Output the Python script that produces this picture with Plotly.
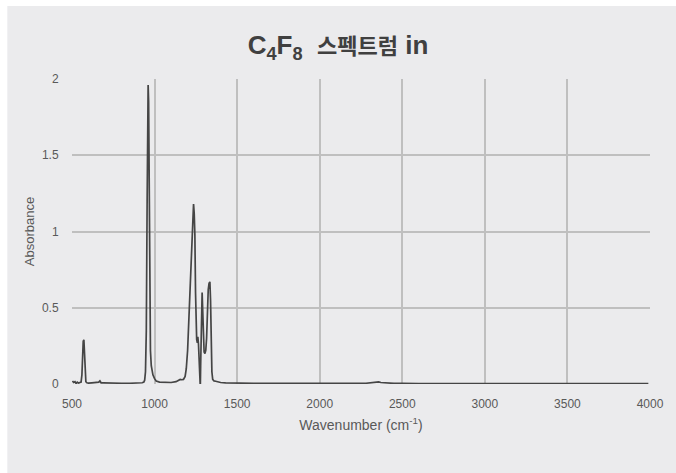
import plotly.graph_objects as go

wavenumber = [503, 510, 518, 525, 532, 540, 548, 555, 560, 564, 568, 572, 576, 580, 584, 590, 600, 620, 640, 655, 662, 669, 676, 690, 720, 760, 800, 850, 900, 925, 935, 940, 945, 950, 955, 958, 961, 964, 967, 970, 975, 980, 990, 1000, 1010, 1030, 1060, 1100, 1130, 1145, 1155, 1165, 1175, 1185, 1192, 1200, 1208, 1215, 1222, 1228, 1232, 1236, 1240, 1244, 1248, 1251, 1255, 1259, 1262, 1266, 1270, 1274, 1276, 1277, 1279, 1282, 1285, 1288, 1291, 1295, 1300, 1305, 1310, 1315, 1320, 1325, 1330, 1335, 1339, 1343, 1347, 1352, 1360, 1370, 1385, 1400, 1430, 1470, 1520, 1600, 1700, 1800, 1900, 2000, 2100, 2200, 2280, 2320, 2345, 2357, 2370, 2400, 2450, 2500, 2550, 2600, 2700, 2800, 2900, 3000, 3200, 3400, 3600, 3700, 3750, 3800, 3900, 3990]
absorbance = [0.02, 0.01, 0.015, 0.003, 0.012, 0.006, 0.01, 0.012, 0.06, 0.2, 0.28, 0.29, 0.2, 0.06, 0.015, 0.008, 0.006, 0.008, 0.008, 0.01, 0.012, 0.02, 0.008, 0.008, 0.006, 0.005, 0.005, 0.005, 0.006, 0.008, 0.012, 0.025, 0.08, 0.35, 1.2, 1.8, 1.96, 1.85, 1.1, 0.45, 0.22, 0.12, 0.06, 0.035, 0.02, 0.012, 0.01, 0.01, 0.015, 0.025, 0.03, 0.028, 0.03, 0.05, 0.1, 0.22, 0.45, 0.68, 0.88, 1.05, 1.15, 1.18, 1.12, 0.98, 0.6, 0.33, 0.29, 0.27, 0.31, 0.26, 0.18, 0.08, 0.0, -0.025, 0.12, 0.4, 0.56, 0.6, 0.5, 0.3, 0.21, 0.2, 0.22, 0.3, 0.5, 0.62, 0.66, 0.67, 0.55, 0.3, 0.08, 0.03, 0.02, 0.018, 0.012, 0.01, 0.008, 0.006, 0.005, 0.004, 0.004, 0.003, 0.003, 0.004, 0.004, 0.004, 0.005, 0.008, 0.012, 0.014, 0.01, 0.006, 0.004, 0.005, 0.003, 0.003, 0.003, 0.002, 0.002, 0.002, 0.002, 0.002, 0.002, 0.004, 0.002, 0.003, 0.002, 0.002]

x_ticks = [500, 1000, 1500, 2000, 2500, 3000, 3500, 4000]
y_ticks = [0, 0.5, 1, 1.5, 2]
y_tick_labels = ["0", "0.5", "1", "1.5", "2"]

L, R, T, B = 72, 653, 79, 384
W, H = 676, 473

fig = go.Figure()
fig.add_trace(go.Scatter(x=wavenumber, y=absorbance, mode="lines",
                         line=dict(color="#454545", width=1.7), showlegend=False))

pw, ph = R - L, B - T
# white outer strips on top and left (reference chart frame offset)
fig.add_shape(type="rect", xref="paper", yref="paper", layer="below",
              x0=(-10 - L) / pw, x1=(7 - L) / pw, y0=(B - H - 20) / ph, y1=(B + 10) / ph,
              fillcolor="white", line=dict(width=0))
fig.add_shape(type="rect", xref="paper", yref="paper", layer="below",
              x0=(-10 - L) / pw, x1=(W + 20 - L) / pw, y0=(B - 6) / ph, y1=(B + 20) / ph,
              fillcolor="white", line=dict(width=0))

font_main = "Liberation Sans, Arial, Noto Sans CJK KR, sans-serif"
fig.update_layout(
    width=W, height=H,
    margin=dict(l=L, r=W - R, t=T, b=H - B),
    paper_bgcolor="#ebebed", plot_bgcolor="rgba(0,0,0,0)",
    title=dict(text="<b>C<sub>4</sub>F<sub>8</sub>  <span style='font-size:22px'>스펙트럼</span> in</b>",
               x=0.5, xref="container", xanchor="center", y=1 - 45 / H, yanchor="middle",
               font=dict(family="Liberation Sans, Noto Sans CJK KR, sans-serif", size=26, color="#404040")),
    font=dict(family=font_main, size=12, color="#595959"),
)
fig.update_xaxes(range=[500, 4000], tickvals=x_ticks, showgrid=True, gridcolor="#bfbfbf", gridwidth=1.5,
                 zeroline=False, showline=False, ticks="outside", ticklen=9, tickcolor="rgba(0,0,0,0)",
                 title=dict(text="Wavenumber (cm<sup>-1</sup>)", font=dict(size=14, color="#595959"), standoff=9),
                 tickfont=dict(size=12, color="#595959"))
fig.update_yaxes(range=[0, 2], tickvals=y_ticks, ticktext=y_tick_labels, showgrid=True, gridcolor="#bfbfbf",
                 gridwidth=1.5, zeroline=False, showline=False, ticks="outside", ticklen=10,
                 tickcolor="rgba(0,0,0,0)",
                 title=dict(text="Absorbance", font=dict(size=13, color="#595959"), standoff=4),
                 tickfont=dict(size=12, color="#595959"))

fig.write_html("out.html")
